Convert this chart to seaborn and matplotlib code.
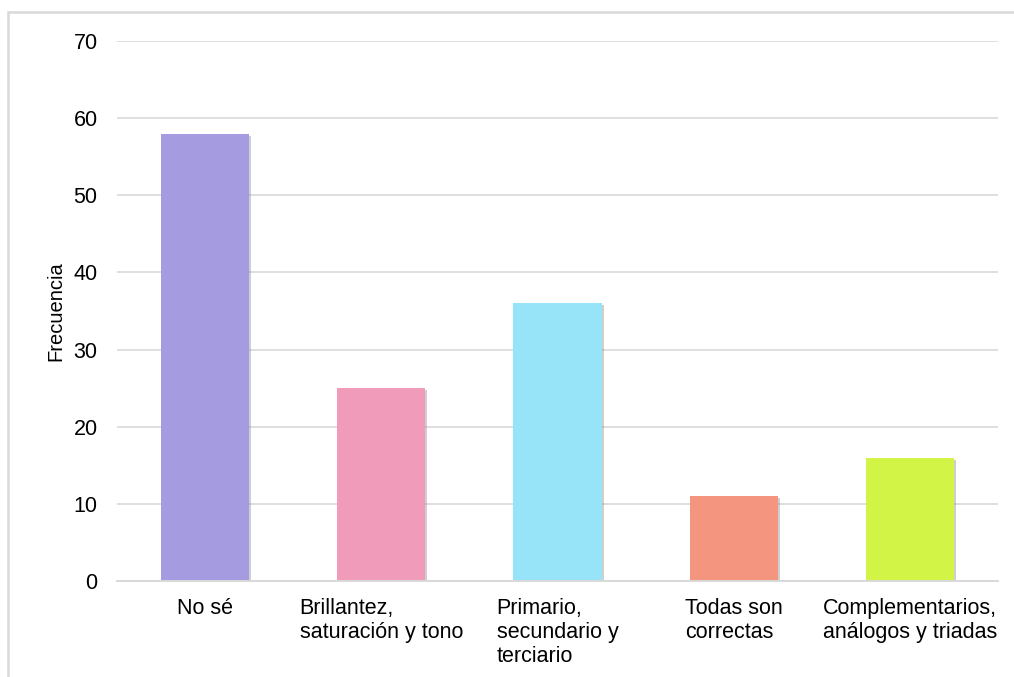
import matplotlib
matplotlib.use("Agg")
import matplotlib.pyplot as plt
import matplotlib.patches as mpatches
import matplotlib.patheffects as pe
import seaborn as sns
import pandas as pd

categories = ["No sé", "Brillantez,\nsaturación y tono", "Primario,\nsecundario y\nterciario",
              "Todas son\ncorrectas", "Complementarios,\nanálogos y triadas"]
values = [58, 25, 36, 11, 16]
colors = ["#A59BE0", "#F19BBB", "#97E3F7", "#F4967F", "#D2F446"]
yticks = [0, 10, 20, 30, 40, 50, 60, 70]
ylabel = "Frecuencia"

sns.set_theme(style="white")
plt.rcParams['font.family'] = ['Liberation Sans', 'DejaVu Sans']

df = pd.DataFrame({"cat": categories, "val": values})

fig = plt.figure(figsize=(10.14, 6.77), dpi=100)
ax = fig.add_axes([117/1014, 1 - 581/677, (998-117)/1014, (581-41)/677])

sns.barplot(data=df, x="cat", y="val", hue="cat", palette=colors, legend=False,
            width=0.5, ax=ax, saturation=1, zorder=3, linewidth=0, edgecolor='none')
for p in ax.patches:
    p.set_linewidth(0)
    p.set_path_effects([pe.SimplePatchShadow(offset=(1.5, -1.5), shadow_rgbFace='#777777', alpha=0.35),
                        pe.Normal()])

ax.set_ylim(0, 70)
ax.set_xlim(-0.5, 4.5)
ax.set_yticks(yticks)
ax.yaxis.grid(True, color='#d9d9d9', linewidth=1.2, zorder=0)
ax.set_axisbelow(True)
for s in ["top", "right", "left"]:
    ax.spines[s].set_visible(False)
ax.spines["bottom"].set_color('#d9d9d9')
ax.spines["bottom"].set_linewidth(1.4)
ax.spines["bottom"].set_zorder(4)

ax.tick_params(axis='y', length=0, pad=14, labelsize=15.5, labelcolor='#000000')
ax.tick_params(axis='x', length=0, pad=12.5, labelsize=15.5, labelcolor='#000000')
for t in ax.get_xticklabels():
    t.set_multialignment('left')
    t.set_linespacing(1.18)

ax.set_xlabel("")
ax.set_ylabel(ylabel, fontsize=14.5, color='#000000')
ax.yaxis.set_label_coords(-52/881, 0.5)

border = mpatches.Rectangle((8/1014, -0.2), 1.5, 1.2 - 12/677, transform=fig.transFigure,
                            fill=False, edgecolor='#d9d9d9', linewidth=1.8)
fig.add_artist(border)

fig.savefig("out.png", dpi=100, facecolor='white')
